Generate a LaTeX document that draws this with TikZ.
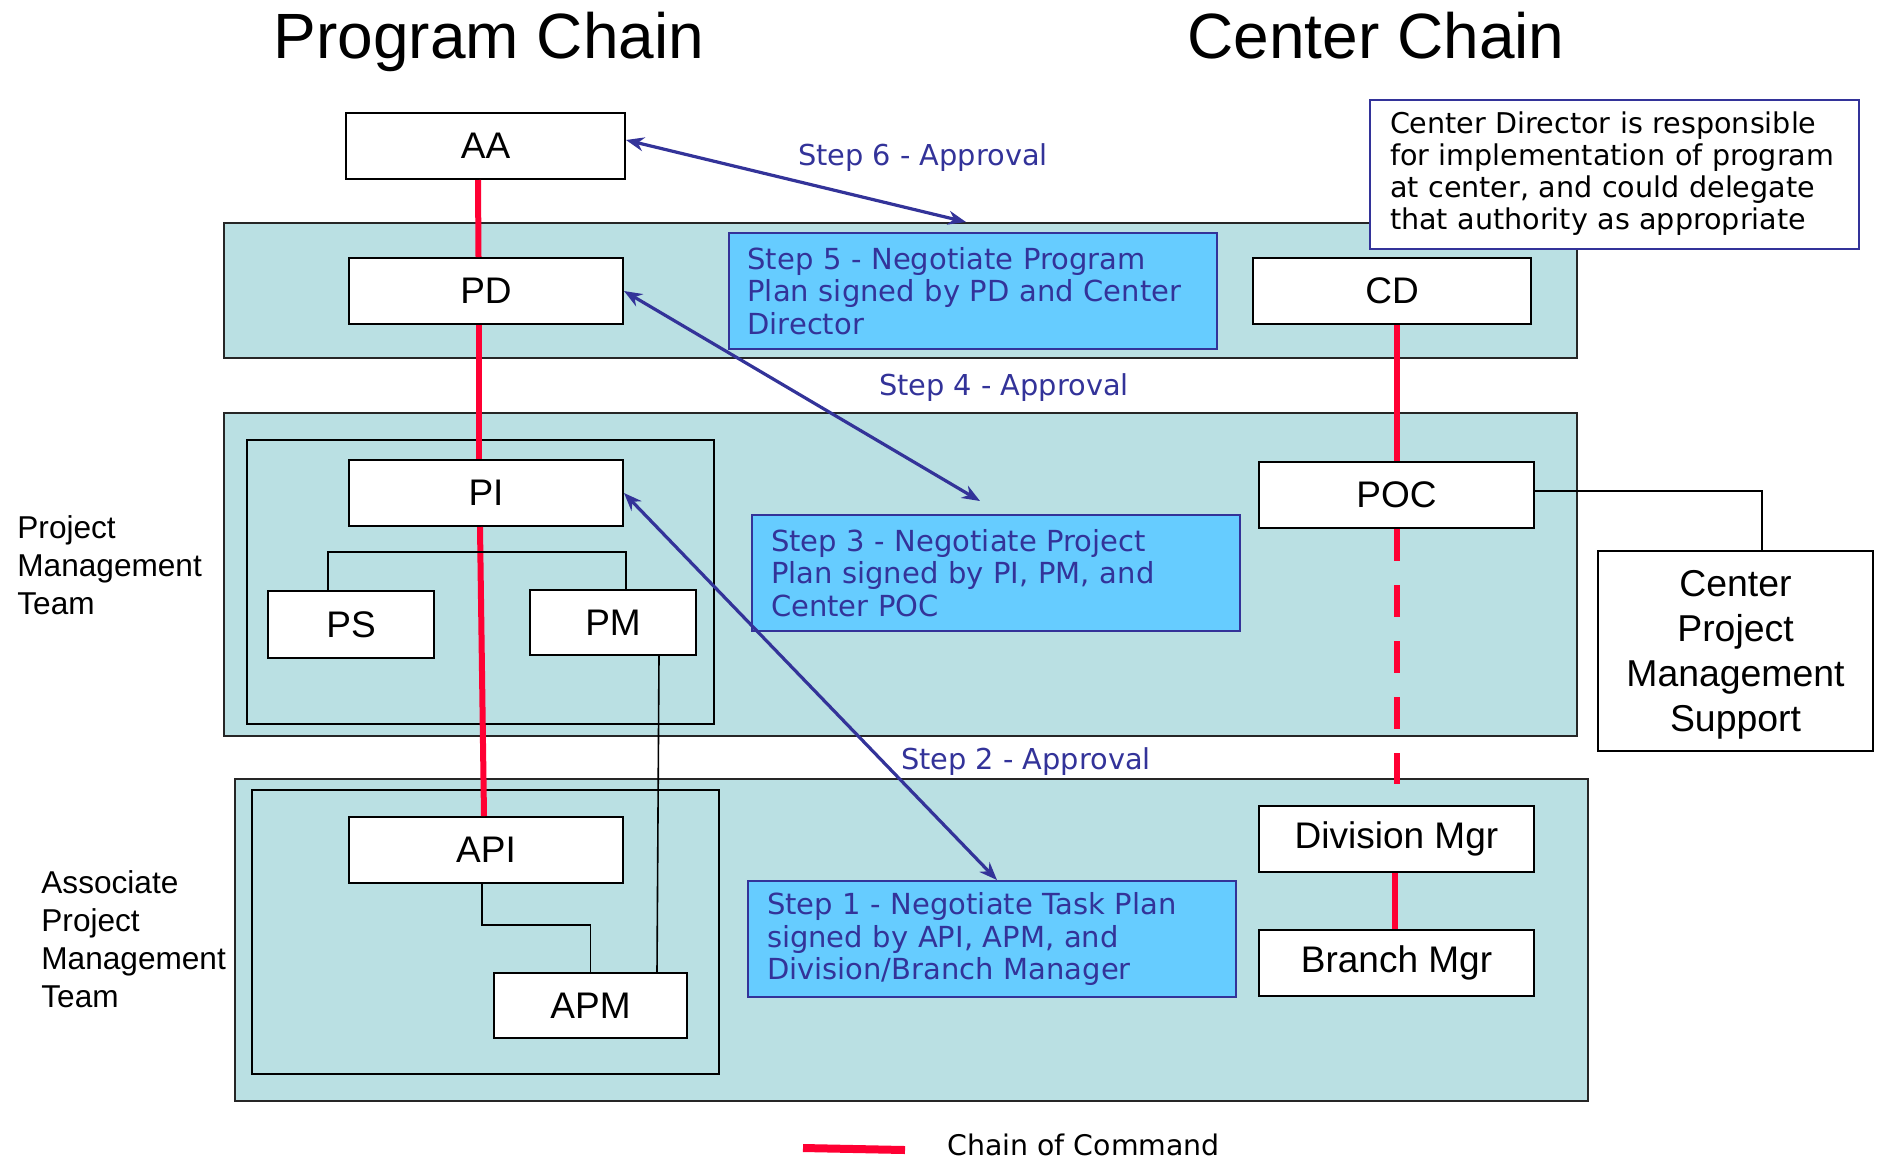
\documentclass[tikz,border=0pt]{standalone}
\usepackage{fontspec}
\setmainfont{Liberation Sans}
\newfontfamily\verdfont{DejaVu Sans}
\usepackage{tikz}
\usetikzlibrary{arrows.meta}
\usetikzlibrary{positioning}

\definecolor{bandteal}{RGB}{186,224,227}
\definecolor{stepblue}{RGB}{102,204,255}
\definecolor{navy}{RGB}{51,51,153}
\definecolor{chainred}{RGB}{255,0,51}

\tikzset{
  role/.style={draw, fill=white, line width=1pt, minimum width=137pt, minimum height=33pt, inner sep=0pt, font=\fontsize{18.5}{22}\selectfont},
  band/.style={draw=black!85, fill=bandteal, line width=1pt},
  team/.style={draw=black, line width=1pt},
  stepbox/.style={draw=navy, fill=stepblue, line width=1pt, text width=225pt, minimum height=58pt, inner xsep=9.5pt, inner ysep=0pt, align=left, text=navy, font=\verdfont\fontsize{14.5}{16.2}\selectfont},
  approval/.style={text=navy, inner sep=0pt, font=\verdfont\fontsize{14.4}{17}\selectfont},
  chain/.style={chainred, line width=3pt},
  link/.style={black, line width=0.8pt},
  approve/.style={navy, line width=1.6pt, {Stealth[length=9pt,width=7pt]}-{Stealth[length=9pt,width=7pt]}},
  teamlabel/.style={align=left, anchor=west, inner sep=0pt, font=\fontsize{15.8}{19}\selectfont},
  title/.style={anchor=base, inner sep=0pt, font=\fontsize{32}{38}\selectfont}
}

\begin{document}
\begin{tikzpicture}[x=0.5pt, y=-0.5pt]
  \useasboundingbox (0,0) rectangle (1879,1158);

  \node[title] (progtitle) at (489,58) {Program Chain};
  \node[title] (centtitle) at (1376,58) {Center Chain};

  \draw[band] (224,223) rectangle (1577,358);
  \draw[band] (224,413) rectangle (1577,736);
  \draw[band] (235,779) rectangle (1588,1101);
  \draw[team] (247,440) rectangle (714,724);
  \draw[team] (252,790) rectangle (719,1074);

  \node[teamlabel] (pmteam) at (17,565) {Project\\Management\\Team};
  \node[teamlabel] (apmteam) at (41,939) {Associate\\Project\\Management\\Team};

  \node[role, minimum width=139.5pt] (AA) at (485.5,146) {AA};
  \node[role] (PD) at (486,291) {PD};
  \node[role] (PI) at (486,493) {PI};
  \node[role, minimum width=83pt, minimum height=33.5pt] (PS) at (351,624.5) {PS};
  \node[role, minimum width=83pt, minimum height=32.5pt] (PM) at (613,622.5) {PM};
  \node[role] (API) at (486,850) {API};
  \node[role, minimum width=96.5pt, minimum height=32.5pt] (APM) at (590.5,1005.5) {APM};

  \node[role, minimum width=139pt] (CD) at (1392,291) {CD};
  \node[role, minimum width=137.5pt] (POC) at (1396.5,495) {POC};
  \node[role, minimum width=137.5pt] (divmgr) at (1396.5,839) {Division Mgr};
  \node[role, minimum width=137.5pt] (branchmgr) at (1396.5,963) {Branch Mgr};
  \node[role, minimum width=137.5pt, minimum height=100pt, align=center, text depth=0pt, font=\fontsize{18.7}{22.4}\selectfont] (cpms) at (1735.5,651) {Center\\Project\\Management\\Support};

  \node[draw=navy, fill=white, line width=1pt, text width=224.5pt, inner xsep=10pt, inner ysep=0pt, minimum height=74.5pt, align=left, font=\verdfont\fontsize{14.3}{16}\selectfont] (cdnote) at (1614.5,174) {Center Director is responsible\\for implementation of program\\at center, and could delegate\\that authority as appropriate};

  \node[stepbox] (step5) at (972.5,291) {Step 5 - Negotiate Program\\Plan signed by PD and Center\\Director};
  \node[stepbox] (step3) at (996,573) {Step 3 - Negotiate Project\\Plan signed by PI, PM, and\\Center POC};
  \node[stepbox] (step1) at (992,939) {Step 1 - Negotiate Task Plan\\signed by API, APM, and\\Division/Branch Manager};

  \draw[chain] ([xshift=-3.75pt]AA.south) -- ([xshift=-3.75pt]PD.north);
  \draw[chain] ([xshift=-3.5pt]PD.south) -- ([xshift=-3.5pt]PI.north);
  \draw[chain] ([xshift=-3pt]PI.south) -- ([xshift=-1pt]API.north);
  \draw[chain] (POC.north |- CD.south) -- (POC.north);
  \draw[chain, dash pattern=on 16pt off 12pt] (POC.south) -- (1396.5,784);
  \draw[chain] ([xshift=-0.75pt]divmgr.south) -- ([xshift=-0.75pt]branchmgr.north);

  \draw[link] ([xshift=-11.5pt]PS.north) |- ([yshift=-12.5pt]PI.south) -| ([xshift=6.5pt]PM.north);
  \draw[link] ([xshift=23pt]PM.south) -- ([xshift=33.25pt]APM.north);
  \draw[link] ([xshift=-2pt]API.south) |- ([yshift=23.5pt]APM.north) -- (APM.north);
  \draw[link] ([yshift=2pt]POC.east) -| ([xshift=13.25pt]cpms.north);

  \coordinate (s6end) at (966,222);
  \coordinate (s4end) at (980,501);
  \draw[approve] ([yshift=3pt]AA.east) -- (s6end);
  \draw[approve] (PD.east) -- (s4end);
  \draw[approve] (PI.east) -- ([xshift=2.5pt]step1.north);

  \node[approval] (lbl6) at (923,158) {Step 6 - Approval};
  \node[approval] (lbl4) at (1004,388) {Step 4 - Approval};
  \node[approval] (lbl2) at (1026,762) {Step 2 - Approval};

  \coordinate (legstart) at (803,1148);
  \coordinate (legend) at (905,1150);
  \draw[chainred, line width=4pt] (legstart) -- (legend);
  \node[anchor=base west, inner sep=0pt, font=\verdfont\fontsize{14.2}{16}\selectfont] (legtext) at (947,1155) {Chain of Command};
\end{tikzpicture}
\end{document}
